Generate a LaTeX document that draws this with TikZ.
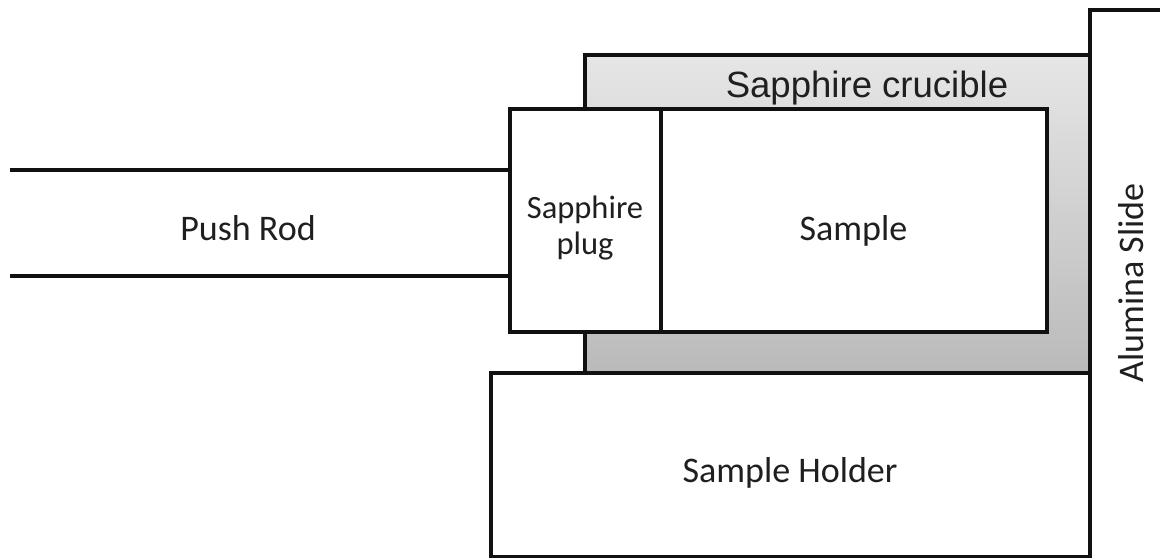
\documentclass[tikz,border=0pt]{standalone}
\usepackage{fontspec}
\setmainfont{Carlito}
\newfontfamily\arialfont{Liberation Sans}
\definecolor{crucibletop}{HTML}{E6E6E6}
\definecolor{cruciblebot}{HTML}{BABABA}
\definecolor{edge}{HTML}{111111}

\begin{document}
\begin{tikzpicture}[
  line width=2pt,
  label/.style={font=\fontsize{20.5}{24}\selectfont, text=black!88, inner sep=0pt}
]

% Picture frame
\useasboundingbox (0,0) rectangle (23.2,11.16);

% ── Coordinates ──
\coordinate (plugSW) at (10.2,4.52);
\coordinate (plugNE) at (13.22,8.98);
\coordinate (sampleNE) at (20.94,8.98);
\coordinate (crucSW) at (11.7,3.7);
\coordinate (crucNE) at (21.8,10.06);
\coordinate (holderSW) at (9.82,0.03);

% ── Sapphire crucible ──
\shade[top color=crucibletop, bottom color=cruciblebot] (crucSW) rectangle (crucNE);
\draw[edge] (crucSW) |- (crucNE);

% ── Sample holder ──
\draw[edge, fill=white] (holderSW) rectangle (crucSW -| crucNE);

% ── Sapphire plug and sample ──
\draw[edge, fill=white] (plugSW) rectangle (plugNE);
\draw[edge, fill=white] (plugSW -| plugNE) rectangle (sampleNE);

% ── Push rod ──
\draw[edge] (0.2,7.76) -- (10.2,7.76);
\draw[edge] (0.2,5.64) -- (10.2,5.64);

% ── Alumina slide ──
\draw[edge] (21.8,0) -- (21.8,10.96) -- (23.4,10.96);

% ── Labels ──
\node[label, anchor=base] (rodlabel) at (4.96,6.36) {Push Rod};
\node[label, font=\fontsize{18.5}{20.5}\selectfont, align=center] (pluglabel)
  at (11.7,6.6) {Sapphire\\plug};
\node[label, anchor=base] (samplelabel) at (17.07,6.36) {Sample};
\node[label, font=\arialfont\fontsize{20.8}{24}\selectfont, anchor=base] (cruciblelabel)
  at (17.34,9.2) {Sapphire crucible};
\node[label, anchor=base] (holderlabel) at (15.8,1.52) {Sample Holder};
\node[label, rotate=90, anchor=base] (slidelabel) at (22.86,5.5) {Alumina Slide};

\end{tikzpicture}
\end{document}
